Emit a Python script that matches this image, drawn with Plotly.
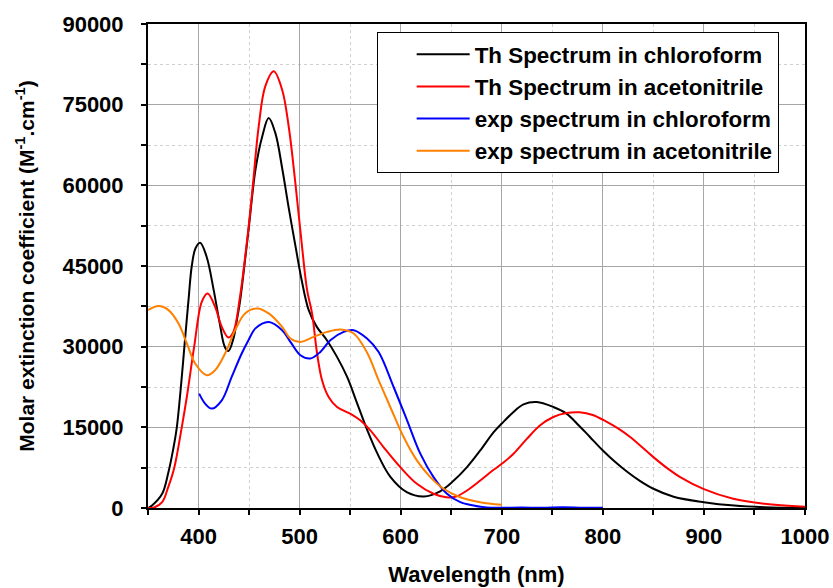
import plotly.graph_objects as go

# ---------- data ----------
th_chcl3_nm = [350, 354, 364, 370, 375, 378.5, 383, 386, 390, 393.3, 397, 401.6, 408, 415, 421, 426, 429.6, 434.5, 438,
               441.4, 446, 450, 456.3, 463, 469.4, 476, 483, 489, 496, 502, 509, 517, 527, 537, 547, 557, 567, 577,
               590, 606, 623, 639, 652, 665.6, 678.7, 692, 700, 711.6, 721.5, 734.8, 751, 764, 776, 787, 800, 812,
               825, 837, 850, 870, 900, 930, 960, 1000]
th_chcl3_eps = [0, 470, 2640, 6500, 11000, 15000, 23500, 30000, 38500, 45000, 48300, 49330, 46720, 40520, 34300, 29950, 29200, 31500, 35000,
                38900, 46100, 52600, 62900, 69080, 72500, 69700, 62900, 56040, 48590, 42400, 36800, 33680, 31200, 28100, 24370, 19410, 14440, 10100,
                5740, 2950, 2140, 3100, 5000, 7600, 10700, 14100, 15700, 17850, 19280, 19710, 18780, 17550, 15400, 13250, 10700, 8600,
                6600, 5000, 3580, 2100, 1080, 450, 150, 30]

th_mecn_nm = [350, 356, 364, 370, 376, 383.4, 388.4, 395.7, 403.2, 409, 416.4, 423, 429.6, 434.5, 441, 447.7,
              453, 459.5, 466, 474.4, 482.7, 489.2, 495.8, 502.4, 507.4, 512.3, 517.3, 522.2, 528.7, 537, 550, 560,
              570, 583, 599.6, 616, 632.5, 645, 655, 665.6, 678.7, 691.9, 702, 711.6, 725, 738, 751, 764, 777, 790, 803,
              815, 827, 850, 863, 876.5, 900, 929, 960, 1000]
th_mecn_eps = [0, 100, 1080, 3880, 7500, 15000, 20640, 30000, 38340, 39900, 37400, 33680, 31700, 32750, 39270, 49200,
               58540, 70940, 78400, 81200, 77780, 70940, 60400, 48590, 40500, 36180, 28730, 23750, 20640, 18780, 17550, 16300,
               14440, 11330, 7600, 4500, 2650, 2000, 2150, 3260, 5120, 7100, 8500, 10100, 12890, 15370, 16920, 17660, 17800, 17300, 16100,
               14800, 13200, 9460, 7500, 5740, 3500, 1710, 780, 250]

exp_chcl3_nm = [400.6, 406.5, 413, 423, 432.8, 442.7, 449.4, 456.3, 469.4, 482.7, 490.9, 500.8, 510.7, 520.5, 530.4,
                543.6, 553.5, 566.7, 578.2, 593, 606.3, 619.4, 632.5, 645.8, 659, 672, 685, 700, 720, 740, 760, 780, 800]
exp_chcl3_eps = [21270, 19410, 18480, 20030, 24370, 28730, 31200, 33400, 34600, 33070, 30890, 28410, 27800, 29030, 31200,
                 32750, 33070, 31520, 29000, 22500, 16300, 10100, 5740, 2650, 1080, 470, 100, 50, 80, 30, 150, 60, 40]

exp_mecn_nm = [350, 360.4, 370.3, 380.2, 388.4, 396.7, 408.1, 416.4, 426.3, 436.2, 446, 458, 469.4, 482.7, 490.9,
               500.8, 513.9, 527.2, 540.3, 553.5, 566.7, 578.2, 589.7, 602.9, 616, 629.3, 642.4, 659, 678.7, 700]
exp_mecn_eps = [36800, 37540, 36800, 34300, 30600, 26860, 24680, 25620, 28730, 33070, 36180, 37100, 36180, 33680, 31520,
                30890, 31820, 32750, 33200, 32450, 28900, 23750, 18780, 13190, 8850, 5740, 3580, 2010, 1080, 600]

names = ["Th Spectrum in chloroform", "Th Spectrum in acetonitrile",
         "exp spectrum in chloroform", "exp spectrum in acetonitrile"]
colors = ["#000000", "#ff0000", "#0000ff", "#ff8000"]

x_ticks = [400, 500, 600, 700, 800, 900, 1000]
y_ticks = [0, 15000, 30000, 45000, 60000, 75000, 90000]

series = [(th_chcl3_nm, th_chcl3_eps), (th_mecn_nm, th_mecn_eps),
          (exp_chcl3_nm, exp_chcl3_eps), (exp_mecn_nm, exp_mecn_eps)]

FONT = "Liberation Sans, Arial, sans-serif"

fig = go.Figure()
for (xs, ys), nm, col in zip(series, names, colors):
    fig.add_trace(go.Scatter(x=xs, y=ys, mode="lines", name=nm,
                             line=dict(color=col, width=2, shape="spline", smoothing=1.0)))

axis_common = dict(
    showline=True, linewidth=2, linecolor="black", mirror=True,
    ticks="outside", ticklen=5, tickwidth=2, tickcolor="black",
    showgrid=True, gridcolor="#a6a6a6", gridwidth=1, zeroline=False,
    automargin=False,
    tickfont=dict(family=FONT, size=22, color="black", weight="bold"),
)

fig.update_xaxes(
    range=[350, 1000], tickvals=x_ticks, ticktext=[str(v) for v in x_ticks],
    minor=dict(dtick=50, tick0=0, ticks="outside", ticklen=5, tickwidth=2, tickcolor="black",
               showgrid=True, gridcolor="#d0d0d0", griddash="dot", gridwidth=1),
    title=dict(text="Wavelength (nm)", font=dict(family=FONT, size=22, color="black", weight="bold"), standoff=18),
    ticklabelstandoff=3,
    **axis_common)

fig.update_yaxes(
    range=[0, 90000], tickvals=y_ticks, ticktext=[str(v) for v in y_ticks],
    minor=dict(dtick=7500, tick0=0, ticks="outside", ticklen=5, tickwidth=2, tickcolor="black",
               showgrid=True, gridcolor="#d0d0d0", griddash="dot", gridwidth=1),
    title=dict(text="Molar extinction coefficient (M<sup>-1</sup>.cm<sup>-1</sup>)",
               font=dict(family=FONT, size=21, color="black", weight="bold"), standoff=22),
    ticklabelstandoff=13,
    **axis_common)

fig.update_layout(
    width=833, height=588,
    margin=dict(l=148, r=28, t=24, b=80),
    paper_bgcolor="white", plot_bgcolor="white",
    font=dict(family=FONT, color="black"),
    legend=dict(x=0.654, y=0.983, xanchor="center", yanchor="top",
                bgcolor="white", bordercolor="black", borderwidth=1,
                font=dict(family=FONT, size=22.4, color="black", weight="bold"),
                itemwidth=53, indentation=34, tracegroupgap=0),
)

fig.write_html("out.html")
